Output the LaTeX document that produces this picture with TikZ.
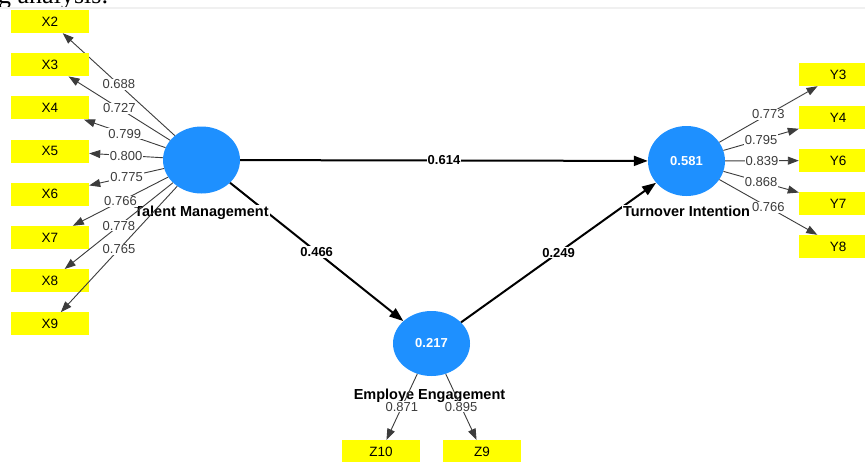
\documentclass[tikz,border=0pt]{standalone}
\usepackage{fontspec}
\setmainfont{Liberation Sans}
\newfontfamily\docfont{Liberation Serif}
\usetikzlibrary{shapes.geometric,arrows.meta,positioning}
\def\F{13}
\def\W{865}
\def\H{461}
\definecolor{lvblue}{RGB}{30,144,255}
\definecolor{mvyellow}{RGB}{255,255,0}
\definecolor{loadgray}{RGB}{60,60,60}
\definecolor{rulegray}{RGB}{240,240,240}

\begin{document}
\begin{tikzpicture}[x=1pt,y=-1pt,
    latent/.style={ellipse,fill=lvblue,minimum width=77pt,minimum height=67pt,
        inner sep=0pt,text=white,font=\bfseries\fontsize{\F}{\F}\selectfont},
    mv/.style={fill=mvyellow,minimum width=78pt,minimum height=23pt,inner sep=0pt,
        font=\fontsize{13.5}{13.5}\selectfont},
    caption/.style={fill=white,inner sep=1pt,font=\bfseries\fontsize{14.5}{14.5}\selectfont},
    loading/.style={draw=loadgray,line width=0.9pt,-{Triangle[length=11pt,width=8pt]}},
    structural/.style={draw=black,line width=2pt,-{Triangle[length=14pt,width=10pt]}},
    weight/.style={fill=white,inner sep=1pt,text=loadgray,font=\fontsize{\F}{\F}\selectfont},
    sweight/.style={fill=white,inner sep=1pt,font=\bfseries\fontsize{\F}{\F}\selectfont}]
\useasboundingbox[fill=white] (0,0) rectangle (\W,\H);
% cut-off line of the page above the figure
\begin{scope}
    \clip (0,0) rectangle (\W,7);
    \node[anchor=base west,inner sep=0pt,font=\docfont\fontsize{26}{26}\selectfont] (head) at (-2,3) {g analysis:};
\end{scope}
\draw[rulegray,line width=2pt] (0,8) -- (\W,8);

% latent variables
\node[latent] (tm) at (201.5,160) {};
\node[latent,minimum height=70pt] (ti) at (686.5,161) {0.581};
\node[latent,minimum height=65pt] (ee) at (431.5,343.5) {0.217};

% inner model
\draw[structural] (tm) -- node[sweight] {0.614} (ti);
\draw[structural] (tm) -- node[sweight] {0.466} (ee);
\draw[structural] (ee) -- node[sweight] {0.249} (ti);

\node[caption,below=11pt of tm] (tmlabel) {Talent Management};
\node[caption,below=9pt of ti] (tilabel) {Turnover Intention};
\node[caption,below=12pt of ee,xshift=-2pt] (eelabel) {Employe Engagement};

% outer model
\foreach \n/\w [count=\k from 0] in {2/0.688,3/0.727,4/0.799,5/0.800,6/0.775,7/0.766,8/0.778,9/0.765}{
    \node[mv] (x\n) at (50,21.5+43.2*\k) {X\n};
    \draw[loading] (tm) -- node[weight] {\w} (x\n);
}
\foreach \n/\w [count=\k from 0] in {3/0.773,4/0.795,6/0.839,7/0.868,8/0.766}{
    \node[mv] (y\n) at (838,74.5+43*\k) {Y\n};
    \draw[loading] (ti) -- node[weight] {\w} (y\n);
}
\foreach \n/\w/\x in {10/0.871/381,9/0.895/482}{
    \node[mv] (z\n) at (\x,451.5) {Z\n};
    \draw[loading] (ee) -- node[weight] {\w} (z\n);
}
\end{tikzpicture}
\end{document}
